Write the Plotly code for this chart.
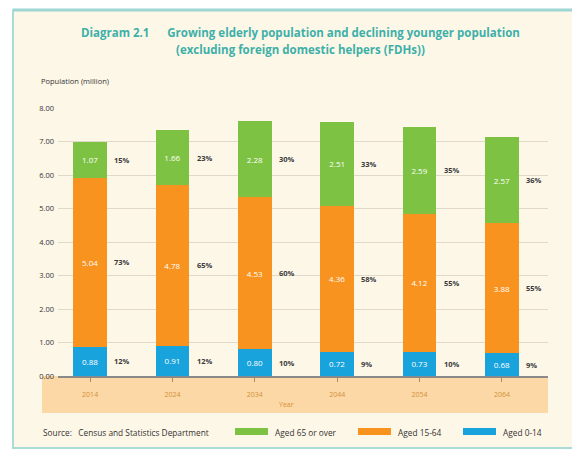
import plotly.graph_objects as go

years = ["2014", "2024", "2034", "2044", "2054", "2064"]
aged_0_14 = [0.88, 0.91, 0.80, 0.72, 0.73, 0.68]
aged_15_64 = [5.04, 4.78, 4.53, 4.36, 4.12, 3.88]
aged_65 = [1.07, 1.66, 2.28, 2.51, 2.59, 2.57]
pct_0_14 = ["12%", "12%", "10%", "9%", "10%", "9%"]
pct_15_64 = ["73%", "65%", "60%", "58%", "55%", "55%"]
pct_65 = ["15%", "23%", "30%", "33%", "35%", "36%"]
y_ticks = [0, 1, 2, 3, 4, 5, 6, 7, 8]

GREEN = "#7DC242"
ORANGE = "#F7931E"
BLUE = "#19A3DD"
CREAM = "#FDF7E8"
TEAL = "#3DB0A8"
FONT = "Open Sans"

# page-pixel geometry of the plot area
L, R, T, B = 58, 548, 108, 376
OFF = 8  # browser body margin


def px(xp):
    return (xp - L) / (R - L)


def py(yp):
    return (B - yp) / (B - T)


x = list(range(len(years)))
fig = go.Figure()
for vals, col in [(aged_0_14, BLUE), (aged_15_64, ORANGE), (aged_65, GREEN)]:
    fig.add_trace(go.Bar(
        x=x, y=vals, marker=dict(color=col, line=dict(width=0)),
        text=[f"{v:.2f}" for v in vals], textposition="inside",
        insidetextanchor="middle", textangle=0,
        textfont=dict(color="white", size=8, family=FONT),
        showlegend=False, hoverinfo="skip", width=0.41,
    ))

ann = []
for i in x:
    bases = [0, aged_0_14[i], aged_0_14[i] + aged_15_64[i]]
    for b, v, p in [(bases[0], aged_0_14[i], pct_0_14[i]),
                    (bases[1], aged_15_64[i], pct_15_64[i]),
                    (bases[2], aged_65[i], pct_65[i])]:
        ann.append(dict(x=i + 0.27, y=b + v / 2, text=f"<b>{p}</b>", showarrow=False,
                        xanchor="left", yanchor="middle",
                        font=dict(size=7.5, color="#3a3a3a", family=FONT)))

ann += [
    dict(xref="paper", yref="paper", x=px(300), y=py(32),
         text="<b>Diagram 2.1      Growing elderly population and declining younger population</b>",
         showarrow=False, yanchor="middle", font=dict(size=11.5, color=TEAL, family=FONT)),
    dict(xref="paper", yref="paper", x=px(300), y=py(50),
         text="<b>(excluding foreign domestic helpers (FDHs))</b>",
         showarrow=False, yanchor="middle", font=dict(size=11.5, color=TEAL, family=FONT)),
    dict(xref="paper", yref="paper", x=px(39), y=py(81),
         text="Population (million)", showarrow=False, xanchor="left", yanchor="middle",
         font=dict(size=7.5, color="#333333", family=FONT)),
    dict(xref="paper", yref="paper", x=px(286), y=py(404),
         text="Year", showarrow=False, yanchor="middle",
         font=dict(size=7, color="#D4913A", family=FONT)),
    dict(xref="paper", yref="paper", x=px(41), y=py(432),
         text="Source:   Census and Statistics Department", showarrow=False,
         xanchor="left", yanchor="middle", font=dict(size=8.3, color="#333333", family=FONT)),
]
legend_items = [(GREEN, "Aged 65 or over", 235), (ORANGE, "Aged 15-64", 358), (BLUE, "Aged 0-14", 463)]
shapes = [
    dict(type="rect", xref="paper", yref="paper", layer="below",
         x0=px(13), x1=px(590), y0=py(448), y1=py(10),
         fillcolor=CREAM, line=dict(color="#A9DCD8", width=2)),
    dict(type="line", xref="paper", yref="paper", layer="below",
         x0=px(13), x1=px(590), y0=py(10), y1=py(10),
         line=dict(color="#9DD6D2", width=3)),
    dict(type="rect", xref="paper", yref="paper", layer="below",
         x0=px(42), x1=1.0, y0=py(413), y1=0,
         fillcolor="#FBD8A5", line=dict(width=0)),
]
for col, lab, lx in legend_items:
    shapes.append(dict(type="rect", xref="paper", yref="paper",
                       x0=px(lx), x1=px(lx + 33), y0=py(435), y1=py(428),
                       fillcolor=col, line=dict(width=0)))
    ann.append(dict(xref="paper", yref="paper", x=px(lx + 38),
                    y=py(432), text=lab, showarrow=False, xanchor="left", yanchor="middle",
                    font=dict(size=8.3, color="#333333", family=FONT)))

fig.update_layout(
    width=580 - OFF, height=450 - OFF,
    margin=dict(l=L - OFF, r=580 - R, t=T - OFF, b=450 - B, pad=0),
    barmode="stack",
    paper_bgcolor="white", plot_bgcolor="rgba(0,0,0,0)",
    annotations=ann, shapes=shapes,
    uniformtext=dict(mode="show", minsize=7),
    xaxis=dict(range=[-0.39, 5.56], tickvals=x, ticktext=years,
               tickfont=dict(size=7, color="#D4913A", family=FONT),
               showgrid=False, zeroline=False, showline=True,
               linecolor="#8a8a8a", linewidth=1.5, ticklabelstandoff=7,
               ticks="outside", ticklen=4, tickcolor="#b08a5a", fixedrange=True),
    yaxis=dict(range=[0, 8], tickvals=y_ticks,
               ticktext=[f"{v:.2f}" for v in y_ticks],
               tickfont=dict(size=7.5, color="#333333", family=FONT),
               showgrid=True, gridcolor="#E0D9C8", gridwidth=1,
               zeroline=False, ticks="", ticklabelstandoff=3,
               showline=False, fixedrange=True),
)

fig.write_html("out.html")
